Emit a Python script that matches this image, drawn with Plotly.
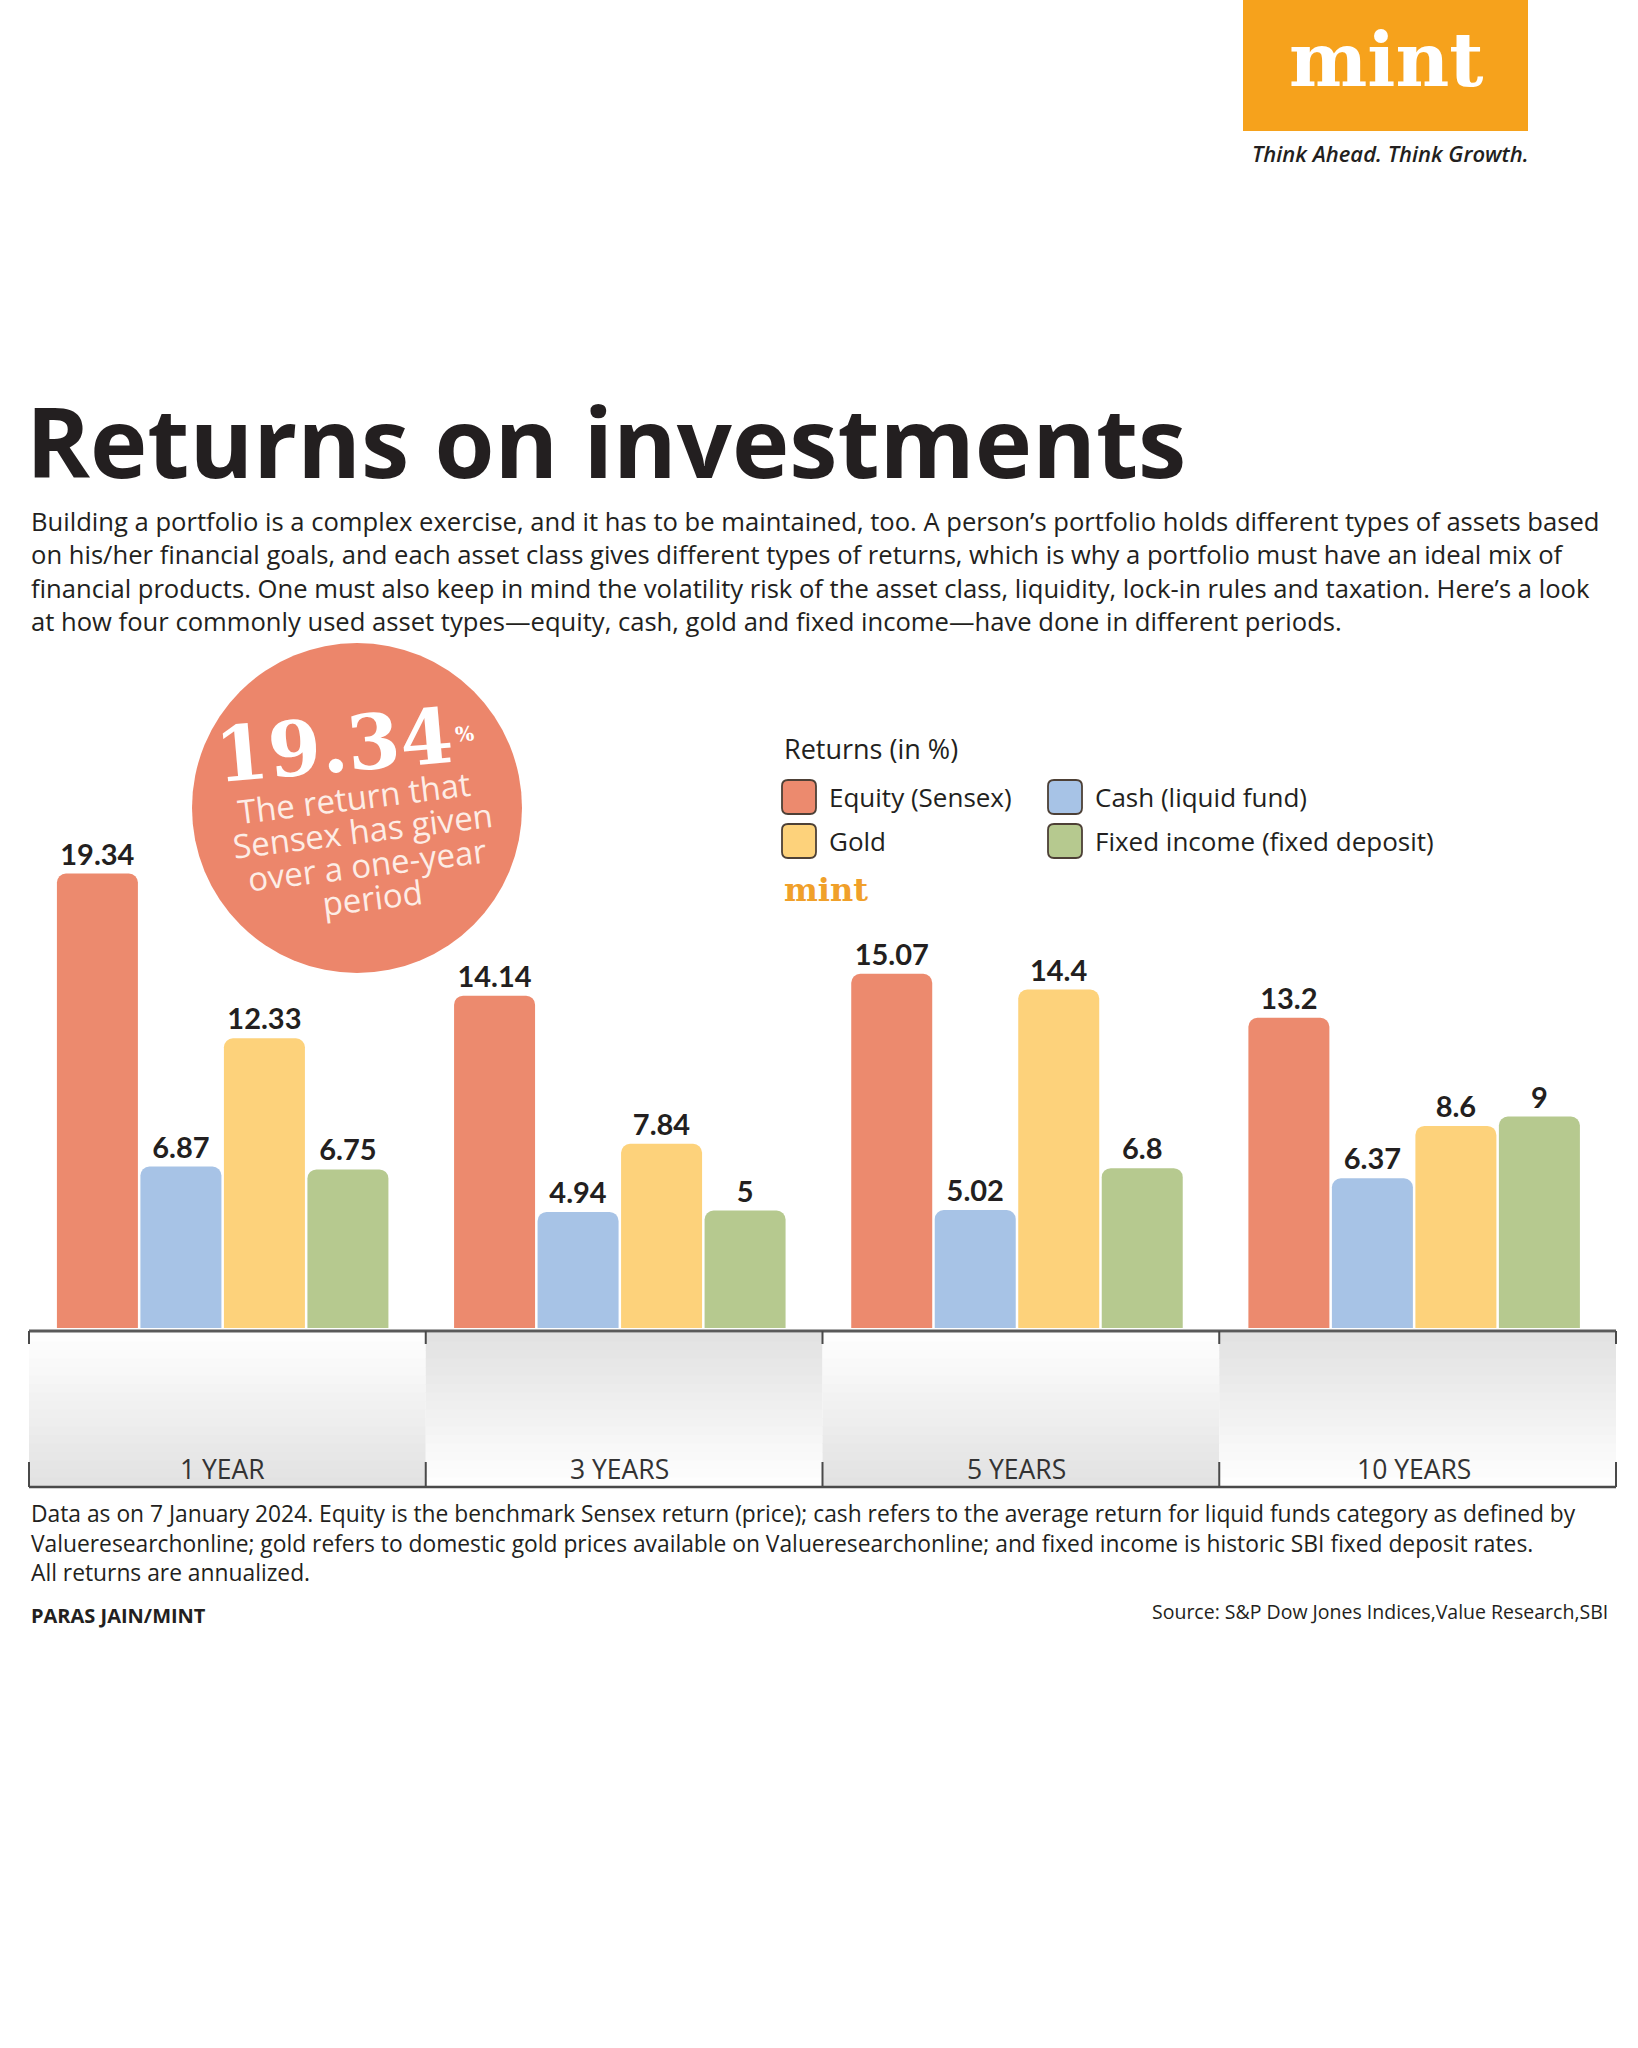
import plotly.graph_objects as go

W, H = 1638, 2048

# ---------------- data ----------------
periods = ["1 YEAR", "3 YEARS", "5 YEARS", "10 YEARS"]
equity = [19.34, 14.14, 15.07, 13.2]
cash = [6.87, 4.94, 5.02, 6.37]
gold = [12.33, 7.84, 14.4, 8.6]
fixed_income = [6.75, 5, 6.8, 9]
series_names = ["Equity (Sensex)", "Cash (liquid fund)", "Gold", "Fixed income (fixed deposit)"]
series_values = [equity, cash, gold, fixed_income]
series_colors = ["#EC8A6E", "#A7C3E6", "#FDD27B", "#B6C98F"]


def px(x):
    return x / W


def py(y):
    return 1 - y / H


BODY = "Open Sans"
DARK = "#231F20"

fig = go.Figure()
for name, vals, col in zip(series_names, series_values, series_colors):
    fig.add_trace(go.Bar(
        x=periods, y=vals, name=name,
        marker=dict(color=col, line=dict(width=0)),
        text=[str(v) for v in vals], textposition="outside",
        textfont=dict(family="Lato", size=29, color=DARK, weight="bold"),
        constraintext="none", cliponaxis=False, showlegend=False,
        hoverinfo="skip",
    ))

shapes = []
annotations = []

# ---------- category panels ----------
left, right = 29, 1616
pw = (right - left) / 4
top_y, bot_y = 1333, 1486
nb = 18
for i in range(4):
    x0 = left + i * pw
    x1 = x0 + pw
    for b in range(nb):
        t = (b + 0.5) / nb
        f = t if i % 2 == 0 else 1 - t
        g = int(round(255 - f * 30))
        y0 = top_y + b * (bot_y - top_y) / nb
        y1 = top_y + (b + 1) * (bot_y - top_y) / nb + 0.6
        shapes.append(dict(type="rect", xref="paper", yref="paper", layer="below",
                           x0=px(x0), x1=px(x1), y0=py(y1), y1=py(y0),
                           line=dict(width=0), fillcolor=f"rgb({g},{g},{g})"))
shapes.append(dict(type="line", xref="paper", yref="paper", x0=px(left), x1=px(right),
                   y0=py(1331), y1=py(1331), line=dict(color="#5a5a5a", width=3)))
shapes.append(dict(type="line", xref="paper", yref="paper", x0=px(left), x1=px(right),
                   y0=py(1487), y1=py(1487), line=dict(color="#4a4a4a", width=2.5)))
for i in range(5):
    xd = left + i * pw
    shapes.append(dict(type="line", xref="paper", yref="paper", x0=px(xd), x1=px(xd),
                       y0=py(1331), y1=py(1344), line=dict(color="#4a4a4a", width=2)))
    shapes.append(dict(type="line", xref="paper", yref="paper", x0=px(xd), x1=px(xd),
                       y0=py(1462), y1=py(1487), line=dict(color="#4a4a4a", width=2)))
for p in periods:
    annotations.append(dict(x=p, xref="x", y=py(1469), yref="paper", text=p, showarrow=False,
                            font=dict(family=BODY, size=26.5, color="#333333"),
                            xanchor="center", yanchor="middle"))

# ---------- logo ----------
shapes.append(dict(type="rect", xref="paper", yref="paper", x0=px(1243), x1=px(1528),
                   y0=py(131), y1=py(0), line=dict(width=0), fillcolor="#F6A21C"))
annotations.append(dict(x=px(1386), y=py(60), xref="paper", yref="paper", text="<b>mint</b>",
                        showarrow=False, font=dict(family="DejaVu Serif", size=74, color="#FFFFFF"),
                        xanchor="center", yanchor="middle"))
annotations.append(dict(x=px(1531), y=py(153), xref="paper", yref="paper",
                        text="<i>Think Ahead. Think Growth.</i>", showarrow=False,
                        font=dict(family="Open Sans", size=22, color=DARK, weight=600),
                        xanchor="right", yanchor="middle"))

# ---------- title & intro ----------
annotations.append(dict(x=px(24), y=py(440), xref="paper", yref="paper",
                        text="Returns on investments", showarrow=False,
                        height=104, valign="middle",
                        font=dict(family="Open Sans", size=97, color=DARK, weight=700),
                        xanchor="left", yanchor="middle"))
intro = ("Building a portfolio is a complex exercise, and it has to be maintained, too. A person’s portfolio holds different types of assets based<br>"
         "on his/her financial goals, and each asset class gives different types of returns, which is why a portfolio must have an ideal mix of<br>"
         "financial products. One must also keep in mind the volatility risk of the asset class, liquidity, lock-in rules and taxation. Here’s a look<br>"
         "at how four commonly used asset types—equity, cash, gold and fixed income—have done in different periods.")
annotations.append(dict(x=px(29), y=py(571), xref="paper", yref="paper", text=intro,
                        showarrow=False, align="left",
                        font=dict(family=BODY, size=25.6, color=DARK),
                        xanchor="left", yanchor="middle"))

# ---------- callout circle ----------
shapes.append(dict(type="circle", xref="paper", yref="paper", x0=px(192), x1=px(522),
                   y0=py(973), y1=py(643), line=dict(width=0), fillcolor="#EC866B"))
annotations.append(dict(x=px(334), y=py(745), xref="paper", yref="paper", text="<b>19.34</b>",
                        showarrow=False, textangle=-5,
                        font=dict(family="DejaVu Serif", size=76, color="#FFFFFF"),
                        xanchor="center", yanchor="middle"))
annotations.append(dict(x=px(464), y=py(734), xref="paper", yref="paper", text="<b>%</b>",
                        showarrow=False, textangle=-5,
                        font=dict(family="DejaVu Serif", size=20, color="#FFFFFF"),
                        xanchor="center", yanchor="middle"))
callout_lines = ["The return that", "Sensex has given", "over a one-year", "period"]
callout_pos = [(354, 797), (362, 830), (367, 864), (372, 897)]
for line, (cx, cy) in zip(callout_lines, callout_pos):
    annotations.append(dict(x=px(cx), y=py(cy), xref="paper", yref="paper", text=line,
                            showarrow=False, textangle=-7,
                            font=dict(family="Open Sans", size=33, color="#FDEDE6"),
                            xanchor="center", yanchor="middle"))

# ---------- legend ----------
annotations.append(dict(x=px(782), y=py(748), xref="paper", yref="paper", text="Returns (in %)",
                        showarrow=False, font=dict(family=BODY, size=27, color=DARK),
                        xanchor="left", yanchor="middle"))


def rrect(x0, y0, x1, y1, r):
    X0, X1 = px(x0), px(x1)
    Y0, Y1 = py(y0), py(y1)
    rx, ry = r / W, r / H
    return (f"M {X0+rx},{Y0} L {X1-rx},{Y0} Q {X1},{Y0} {X1},{Y0-ry} "
            f"L {X1},{Y1+ry} Q {X1},{Y1} {X1-rx},{Y1} L {X0+rx},{Y1} "
            f"Q {X0},{Y1} {X0},{Y1+ry} L {X0},{Y0-ry} Q {X0},{Y0} {X0+rx},{Y0} Z")


legend_pos = [(782, 797), (1048, 797), (782, 841), (1048, 841)]
for name, col, (lx, ly) in zip(series_names, series_colors, legend_pos):
    shapes.append(dict(type="path", xref="paper", yref="paper",
                       path=rrect(lx, ly - 17, lx + 34, ly + 17, 6),
                       fillcolor=col, line=dict(color="#4d4036", width=1.8)))
    annotations.append(dict(x=px(lx + 45), y=py(ly), xref="paper", yref="paper", text=name,
                            showarrow=False, font=dict(family=BODY, size=26, color=DARK),
                            xanchor="left", yanchor="middle"))
annotations.append(dict(x=px(782), y=py(890), xref="paper", yref="paper", text="<b>mint</b>",
                        showarrow=False, font=dict(family="DejaVu Serif", size=32, color="#F0A02A"),
                        xanchor="left", yanchor="middle"))

# ---------- footer ----------
foot = ("Data as on 7 January 2024. Equity is the benchmark Sensex return (price); cash refers to the average return for liquid funds category as defined by<br>"
        "Valueresearchonline; gold refers to domestic gold prices available on Valueresearchonline; and fixed income is historic SBI fixed deposit rates.<br>"
        "All returns are annualized.")
annotations.append(dict(x=px(29), y=py(1543), xref="paper", yref="paper", text=foot,
                        showarrow=False, align="left",
                        font=dict(family=BODY, size=22.8, color=DARK),
                        xanchor="left", yanchor="middle"))
annotations.append(dict(x=px(29), y=py(1615), xref="paper", yref="paper", text="<b>PARAS JAIN/MINT</b>",
                        showarrow=False, font=dict(family=BODY, size=20, color=DARK),
                        xanchor="left", yanchor="middle"))
annotations.append(dict(x=px(1610), y=py(1611), xref="paper", yref="paper",
                        text="Source: S&P Dow Jones Indices,Value Research,SBI",
                        showarrow=False, font=dict(family=BODY, size=19.5, color=DARK),
                        xanchor="right", yanchor="middle"))

fig.update_layout(
    width=W, height=H,
    margin=dict(l=0, r=0, t=0, b=0),
    paper_bgcolor="#FFFFFF", plot_bgcolor="rgba(0,0,0,0)",
    barmode="group", bargap=0.159, bargroupgap=0.03, barcornerradius=9,
    xaxis=dict(domain=[px(left) - 0.003, px(right) - 0.002], type="category", range=[-0.5, 3.5],
               showticklabels=False, showgrid=False, zeroline=False, showline=False, ticks=""),
    yaxis=dict(domain=[py(1328), py(858)], range=[0, 20], showticklabels=False,
               showgrid=False, zeroline=False, showline=False, ticks=""),
    shapes=shapes, annotations=annotations,
    font=dict(family=BODY),
)

fig.write_html("out.html")
